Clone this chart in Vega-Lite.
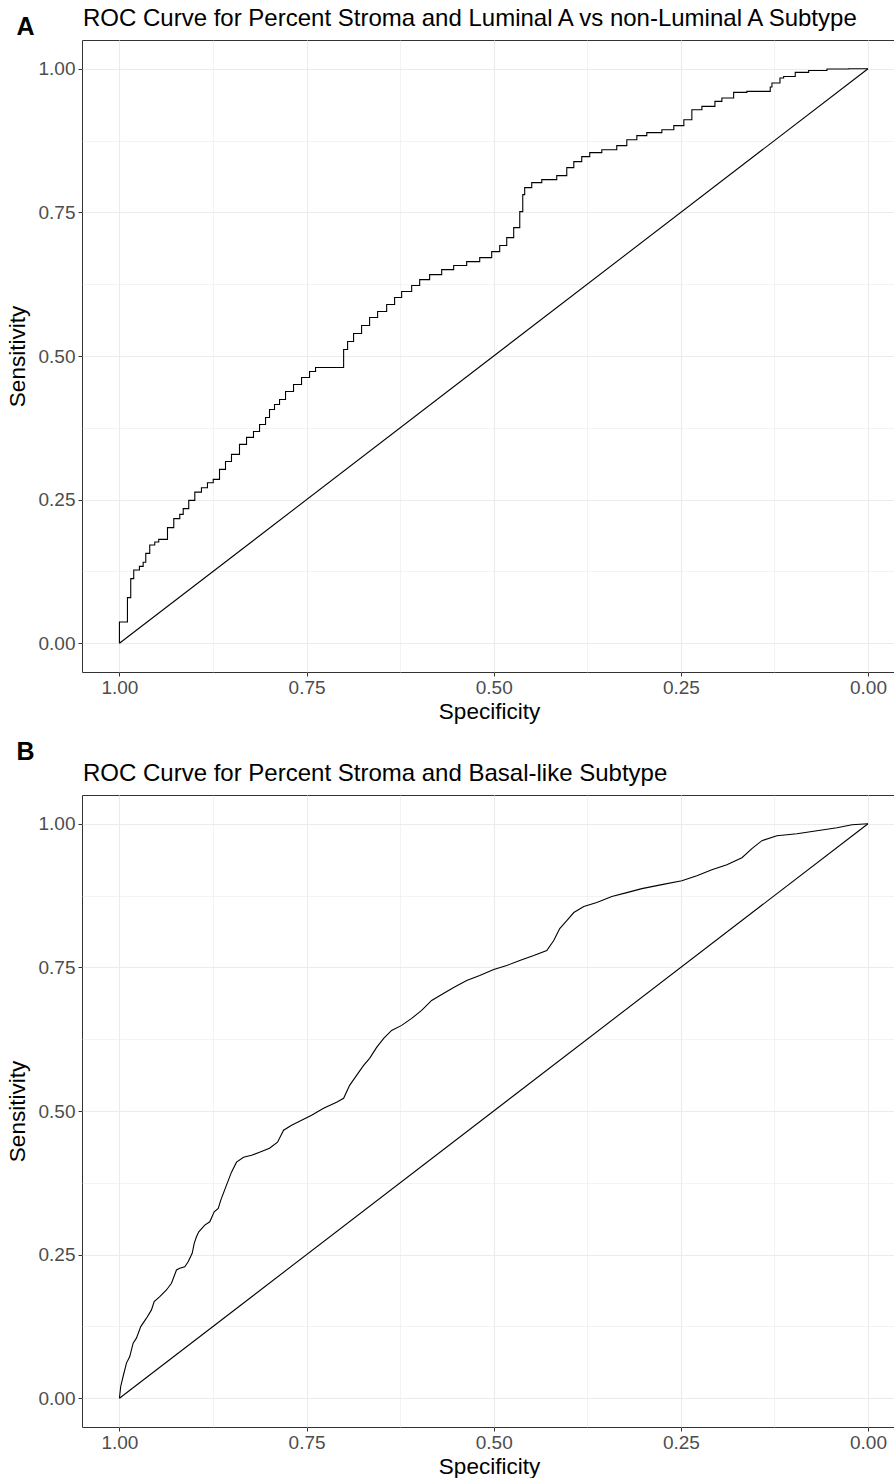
{
  "$schema": "https://vega.github.io/schema/vega-lite/v6.json",
  "background": "white",
  "padding": {"left": 5, "top": 6, "right": 0, "bottom": 0},
  "spacing": 16,
  "config": {
    "view": {"stroke": "#333333", "strokeWidth": 1},
    "font": "Liberation Sans",
    "axis": {
      "grid": true,
      "gridColor": "#EBEBEB",
      "domain": false,
      "tickColor": "#333333",
      "tickSize": 4,
      "labelColor": "#4D4D4D",
      "labelFont": "Liberation Sans",
      "labelFontSize": 19,
      "titleFont": "Liberation Sans",
      "titleFontSize": 22.5,
      "titleFontWeight": "normal",
      "titleColor": "#000000"
    },
    "concat": {"spacing": 16}
  },
  "datasets": {
    "rocA": [
      {"spec": 1.0, "sens": 0.0},
      {"spec": 0.9893, "sens": 0.037},
      {"spec": 0.9849, "sens": 0.0795},
      {"spec": 0.9809, "sens": 0.1125},
      {"spec": 0.9733, "sens": 0.1275},
      {"spec": 0.9683, "sens": 0.1339},
      {"spec": 0.9648, "sens": 0.1409},
      {"spec": 0.9595, "sens": 0.1565},
      {"spec": 0.9528, "sens": 0.171},
      {"spec": 0.9475, "sens": 0.1762},
      {"spec": 0.9358, "sens": 0.1809},
      {"spec": 0.9274, "sens": 0.2012},
      {"spec": 0.9194, "sens": 0.2169},
      {"spec": 0.9148, "sens": 0.2243},
      {"spec": 0.9074, "sens": 0.2343},
      {"spec": 0.8993, "sens": 0.2487},
      {"spec": 0.8904, "sens": 0.2631},
      {"spec": 0.8824, "sens": 0.2708},
      {"spec": 0.8747, "sens": 0.2795},
      {"spec": 0.8663, "sens": 0.2852},
      {"spec": 0.8583, "sens": 0.3026},
      {"spec": 0.8503, "sens": 0.3165},
      {"spec": 0.8396, "sens": 0.3287},
      {"spec": 0.8302, "sens": 0.3461},
      {"spec": 0.8209, "sens": 0.3583},
      {"spec": 0.8128, "sens": 0.3687},
      {"spec": 0.8048, "sens": 0.3809},
      {"spec": 0.7995, "sens": 0.393},
      {"spec": 0.7928, "sens": 0.407},
      {"spec": 0.7861, "sens": 0.4157},
      {"spec": 0.7781, "sens": 0.4243},
      {"spec": 0.7674, "sens": 0.4383},
      {"spec": 0.7567, "sens": 0.4504},
      {"spec": 0.746, "sens": 0.4626},
      {"spec": 0.738, "sens": 0.473},
      {"spec": 0.7273, "sens": 0.48},
      {"spec": 0.7005, "sens": 0.48},
      {"spec": 0.6952, "sens": 0.5113},
      {"spec": 0.6872, "sens": 0.5252},
      {"spec": 0.6765, "sens": 0.5391},
      {"spec": 0.6658, "sens": 0.553},
      {"spec": 0.6551, "sens": 0.567},
      {"spec": 0.643, "sens": 0.5774},
      {"spec": 0.6324, "sens": 0.5896},
      {"spec": 0.623, "sens": 0.6017},
      {"spec": 0.6096, "sens": 0.6122},
      {"spec": 0.5989, "sens": 0.6226},
      {"spec": 0.5856, "sens": 0.633},
      {"spec": 0.5695, "sens": 0.6417},
      {"spec": 0.5535, "sens": 0.6504},
      {"spec": 0.5361, "sens": 0.6574},
      {"spec": 0.5187, "sens": 0.6643},
      {"spec": 0.5027, "sens": 0.6713},
      {"spec": 0.492, "sens": 0.6817},
      {"spec": 0.4826, "sens": 0.6922},
      {"spec": 0.4733, "sens": 0.7061},
      {"spec": 0.4652, "sens": 0.7235},
      {"spec": 0.4612, "sens": 0.7513},
      {"spec": 0.4586, "sens": 0.7809},
      {"spec": 0.4492, "sens": 0.793},
      {"spec": 0.4358, "sens": 0.8017},
      {"spec": 0.4158, "sens": 0.807},
      {"spec": 0.4024, "sens": 0.8139},
      {"spec": 0.393, "sens": 0.8278},
      {"spec": 0.3824, "sens": 0.8383},
      {"spec": 0.3717, "sens": 0.847},
      {"spec": 0.3556, "sens": 0.8539},
      {"spec": 0.3356, "sens": 0.8591},
      {"spec": 0.3222, "sens": 0.8661},
      {"spec": 0.3088, "sens": 0.8765},
      {"spec": 0.2955, "sens": 0.8835},
      {"spec": 0.2754, "sens": 0.8887},
      {"spec": 0.2594, "sens": 0.8939},
      {"spec": 0.246, "sens": 0.9009},
      {"spec": 0.2353, "sens": 0.9113},
      {"spec": 0.2219, "sens": 0.9287},
      {"spec": 0.2045, "sens": 0.9344},
      {"spec": 0.1952, "sens": 0.9431},
      {"spec": 0.1795, "sens": 0.949},
      {"spec": 0.1618, "sens": 0.9588},
      {"spec": 0.1306, "sens": 0.9605},
      {"spec": 0.1283, "sens": 0.9682},
      {"spec": 0.1176, "sens": 0.9751},
      {"spec": 0.1127, "sens": 0.9838},
      {"spec": 0.0972, "sens": 0.9866},
      {"spec": 0.0793, "sens": 0.9936},
      {"spec": 0.0548, "sens": 0.997},
      {"spec": 0.0258, "sens": 0.9995},
      {"spec": 0.0, "sens": 1.0}
    ],
    "rocB": [
      {"spec": 1.0, "sens": 0.0},
      {"spec": 0.9983, "sens": 0.0205},
      {"spec": 0.9951, "sens": 0.0379},
      {"spec": 0.9906, "sens": 0.0612},
      {"spec": 0.9862, "sens": 0.0726},
      {"spec": 0.9817, "sens": 0.0959},
      {"spec": 0.9773, "sens": 0.1046},
      {"spec": 0.9715, "sens": 0.1248},
      {"spec": 0.9639, "sens": 0.1394},
      {"spec": 0.9572, "sens": 0.1538},
      {"spec": 0.9536, "sens": 0.1682},
      {"spec": 0.9461, "sens": 0.1769},
      {"spec": 0.9372, "sens": 0.1885},
      {"spec": 0.9305, "sens": 0.2002},
      {"spec": 0.9238, "sens": 0.2233},
      {"spec": 0.9194, "sens": 0.2262},
      {"spec": 0.9127, "sens": 0.229},
      {"spec": 0.9082, "sens": 0.2377},
      {"spec": 0.9028, "sens": 0.2523},
      {"spec": 0.9001, "sens": 0.2697},
      {"spec": 0.8971, "sens": 0.2811},
      {"spec": 0.894, "sens": 0.2898},
      {"spec": 0.886, "sens": 0.3015},
      {"spec": 0.8793, "sens": 0.3072},
      {"spec": 0.8734, "sens": 0.3246},
      {"spec": 0.868, "sens": 0.3305},
      {"spec": 0.8646, "sens": 0.3449},
      {"spec": 0.857, "sens": 0.371},
      {"spec": 0.8503, "sens": 0.3936},
      {"spec": 0.8436, "sens": 0.411},
      {"spec": 0.8342, "sens": 0.4195},
      {"spec": 0.8235, "sens": 0.423},
      {"spec": 0.8128, "sens": 0.4283},
      {"spec": 0.7995, "sens": 0.4352},
      {"spec": 0.7888, "sens": 0.4457},
      {"spec": 0.7807, "sens": 0.4665},
      {"spec": 0.77, "sens": 0.4752},
      {"spec": 0.7567, "sens": 0.4839},
      {"spec": 0.7433, "sens": 0.4926},
      {"spec": 0.7273, "sens": 0.5048},
      {"spec": 0.7099, "sens": 0.5152},
      {"spec": 0.7005, "sens": 0.5222},
      {"spec": 0.6925, "sens": 0.5447},
      {"spec": 0.6832, "sens": 0.5621},
      {"spec": 0.6738, "sens": 0.5795},
      {"spec": 0.6658, "sens": 0.5917},
      {"spec": 0.6564, "sens": 0.6108},
      {"spec": 0.647, "sens": 0.6264},
      {"spec": 0.6364, "sens": 0.6403},
      {"spec": 0.623, "sens": 0.649},
      {"spec": 0.6096, "sens": 0.6612},
      {"spec": 0.5963, "sens": 0.675},
      {"spec": 0.5829, "sens": 0.6924},
      {"spec": 0.5695, "sens": 0.7029},
      {"spec": 0.5535, "sens": 0.715},
      {"spec": 0.5361, "sens": 0.7272},
      {"spec": 0.5187, "sens": 0.7359},
      {"spec": 0.5, "sens": 0.7463},
      {"spec": 0.4826, "sens": 0.7533},
      {"spec": 0.4652, "sens": 0.762},
      {"spec": 0.4465, "sens": 0.7706},
      {"spec": 0.4291, "sens": 0.7793},
      {"spec": 0.4198, "sens": 0.7967},
      {"spec": 0.4118, "sens": 0.8176},
      {"spec": 0.4024, "sens": 0.8315},
      {"spec": 0.393, "sens": 0.8454},
      {"spec": 0.3797, "sens": 0.8558},
      {"spec": 0.3623, "sens": 0.8628},
      {"spec": 0.3422, "sens": 0.8732},
      {"spec": 0.3222, "sens": 0.8801},
      {"spec": 0.3021, "sens": 0.887},
      {"spec": 0.2754, "sens": 0.894},
      {"spec": 0.2487, "sens": 0.9009},
      {"spec": 0.2286, "sens": 0.9096},
      {"spec": 0.2086, "sens": 0.92},
      {"spec": 0.1885, "sens": 0.9287},
      {"spec": 0.1684, "sens": 0.9409},
      {"spec": 0.1551, "sens": 0.9566},
      {"spec": 0.1417, "sens": 0.9705},
      {"spec": 0.1217, "sens": 0.9792},
      {"spec": 0.0949, "sens": 0.9826},
      {"spec": 0.0682, "sens": 0.9878},
      {"spec": 0.0414, "sens": 0.993},
      {"spec": 0.0214, "sens": 0.9983},
      {"spec": 0.0, "sens": 1.0}
    ],
    "diag": [
      {"spec": 1.0, "sens": 0.0},
      {"spec": 0.0, "sens": 1.0}
    ]
  },
  "vconcat": [
    {
      "title": {"text": "A", "anchor": "start", "frame": "bounds", "fontSize": 25, "fontWeight": "bold", "font": "Liberation Sans", "color": "#000000", "dx": 11, "dy": 33, "offset": 0},
      "vconcat": [
        {
          "width": 814,
          "height": 632,
          "title": {"text": "ROC Curve for Percent Stroma and Luminal A vs non-Luminal A Subtype", "anchor": "start", "frame": "group", "fontSize": 24, "fontWeight": "normal", "font": "Liberation Sans", "color": "#000000", "offset": 9, "dx": 1},
          "layer": [
            {
              "data": {"name": "rocA"},
              "mark": {"type": "line", "interpolate": "step-before", "color": "#000000", "strokeWidth": 1.1},
              "encoding": {
                "x": {"field": "spec", "type": "quantitative", "title": "Specificity",
                      "scale": {"domain": [-0.0374, 1.05], "reverse": true, "nice": false, "zero": false},
                      "axis": {"values": [0, 0.125, 0.25, 0.375, 0.5, 0.625, 0.75, 0.875, 1],
                               "labelExpr": "(datum.value*4) % 1 == 0 ? format(datum.value, '.2f') : ''",
                               "tickOpacity": {"condition": {"test": "(datum.value*4) % 1 == 0", "value": 1}, "value": 0},
                               "gridWidth": {"condition": {"test": "(datum.value*4) % 1 == 0", "value": 1.1}, "value": 0.6},
                               "labelPadding": 2, "titlePadding": 3, "labelFlush": false, "labelOverlap": false}},
                "y": {"field": "sens", "type": "quantitative", "title": "Sensitivity",
                      "scale": {"domain": [-0.05, 1.05], "nice": false, "zero": false},
                      "axis": {"values": [0, 0.125, 0.25, 0.375, 0.5, 0.625, 0.75, 0.875, 1],
                               "labelExpr": "(datum.value*4) % 1 == 0 ? format(datum.value, '.2f') : ''",
                               "tickOpacity": {"condition": {"test": "(datum.value*4) % 1 == 0", "value": 1}, "value": 0},
                               "gridWidth": {"condition": {"test": "(datum.value*4) % 1 == 0", "value": 1.1}, "value": 0.6},
                               "labelPadding": 3, "titlePadding": 9, "labelFlush": false, "labelOverlap": false}},
                "order": {"field": "spec", "sort": "descending"}
              }
            },
            {
              "data": {"name": "diag"},
              "mark": {"type": "line", "color": "#000000", "strokeWidth": 1.1},
              "encoding": {
                "x": {"field": "spec", "type": "quantitative"},
                "y": {"field": "sens", "type": "quantitative"}
              }
            }
          ]
        }
      ]
    },
    {
      "title": {"text": "B", "anchor": "start", "frame": "bounds", "fontSize": 25, "fontWeight": "bold", "font": "Liberation Sans", "color": "#000000", "dx": 11, "dy": 3, "offset": 0},
      "vconcat": [
        {
          "width": 814,
          "height": 632,
          "title": {"text": "ROC Curve for Percent Stroma and Basal-like Subtype", "anchor": "start", "frame": "group", "fontSize": 24, "fontWeight": "normal", "font": "Liberation Sans", "color": "#000000", "offset": 9, "dx": 1},
          "layer": [
            {
              "data": {"name": "rocB"},
              "mark": {"type": "line", "interpolate": "linear", "color": "#000000", "strokeWidth": 1.1},
              "encoding": {
                "x": {"field": "spec", "type": "quantitative", "title": "Specificity",
                      "scale": {"domain": [-0.0374, 1.05], "reverse": true, "nice": false, "zero": false},
                      "axis": {"values": [0, 0.125, 0.25, 0.375, 0.5, 0.625, 0.75, 0.875, 1],
                               "labelExpr": "(datum.value*4) % 1 == 0 ? format(datum.value, '.2f') : ''",
                               "tickOpacity": {"condition": {"test": "(datum.value*4) % 1 == 0", "value": 1}, "value": 0},
                               "gridWidth": {"condition": {"test": "(datum.value*4) % 1 == 0", "value": 1.1}, "value": 0.6},
                               "labelPadding": 2, "titlePadding": 3, "labelFlush": false, "labelOverlap": false}},
                "y": {"field": "sens", "type": "quantitative", "title": "Sensitivity",
                      "scale": {"domain": [-0.05, 1.05], "nice": false, "zero": false},
                      "axis": {"values": [0, 0.125, 0.25, 0.375, 0.5, 0.625, 0.75, 0.875, 1],
                               "labelExpr": "(datum.value*4) % 1 == 0 ? format(datum.value, '.2f') : ''",
                               "tickOpacity": {"condition": {"test": "(datum.value*4) % 1 == 0", "value": 1}, "value": 0},
                               "gridWidth": {"condition": {"test": "(datum.value*4) % 1 == 0", "value": 1.1}, "value": 0.6},
                               "labelPadding": 3, "titlePadding": 9, "labelFlush": false, "labelOverlap": false}},
                "order": {"field": "spec", "sort": "descending"}
              }
            },
            {
              "data": {"name": "diag"},
              "mark": {"type": "line", "color": "#000000", "strokeWidth": 1.1},
              "encoding": {
                "x": {"field": "spec", "type": "quantitative"},
                "y": {"field": "sens", "type": "quantitative"}
              }
            }
          ]
        }
      ]
    }
  ]
}
